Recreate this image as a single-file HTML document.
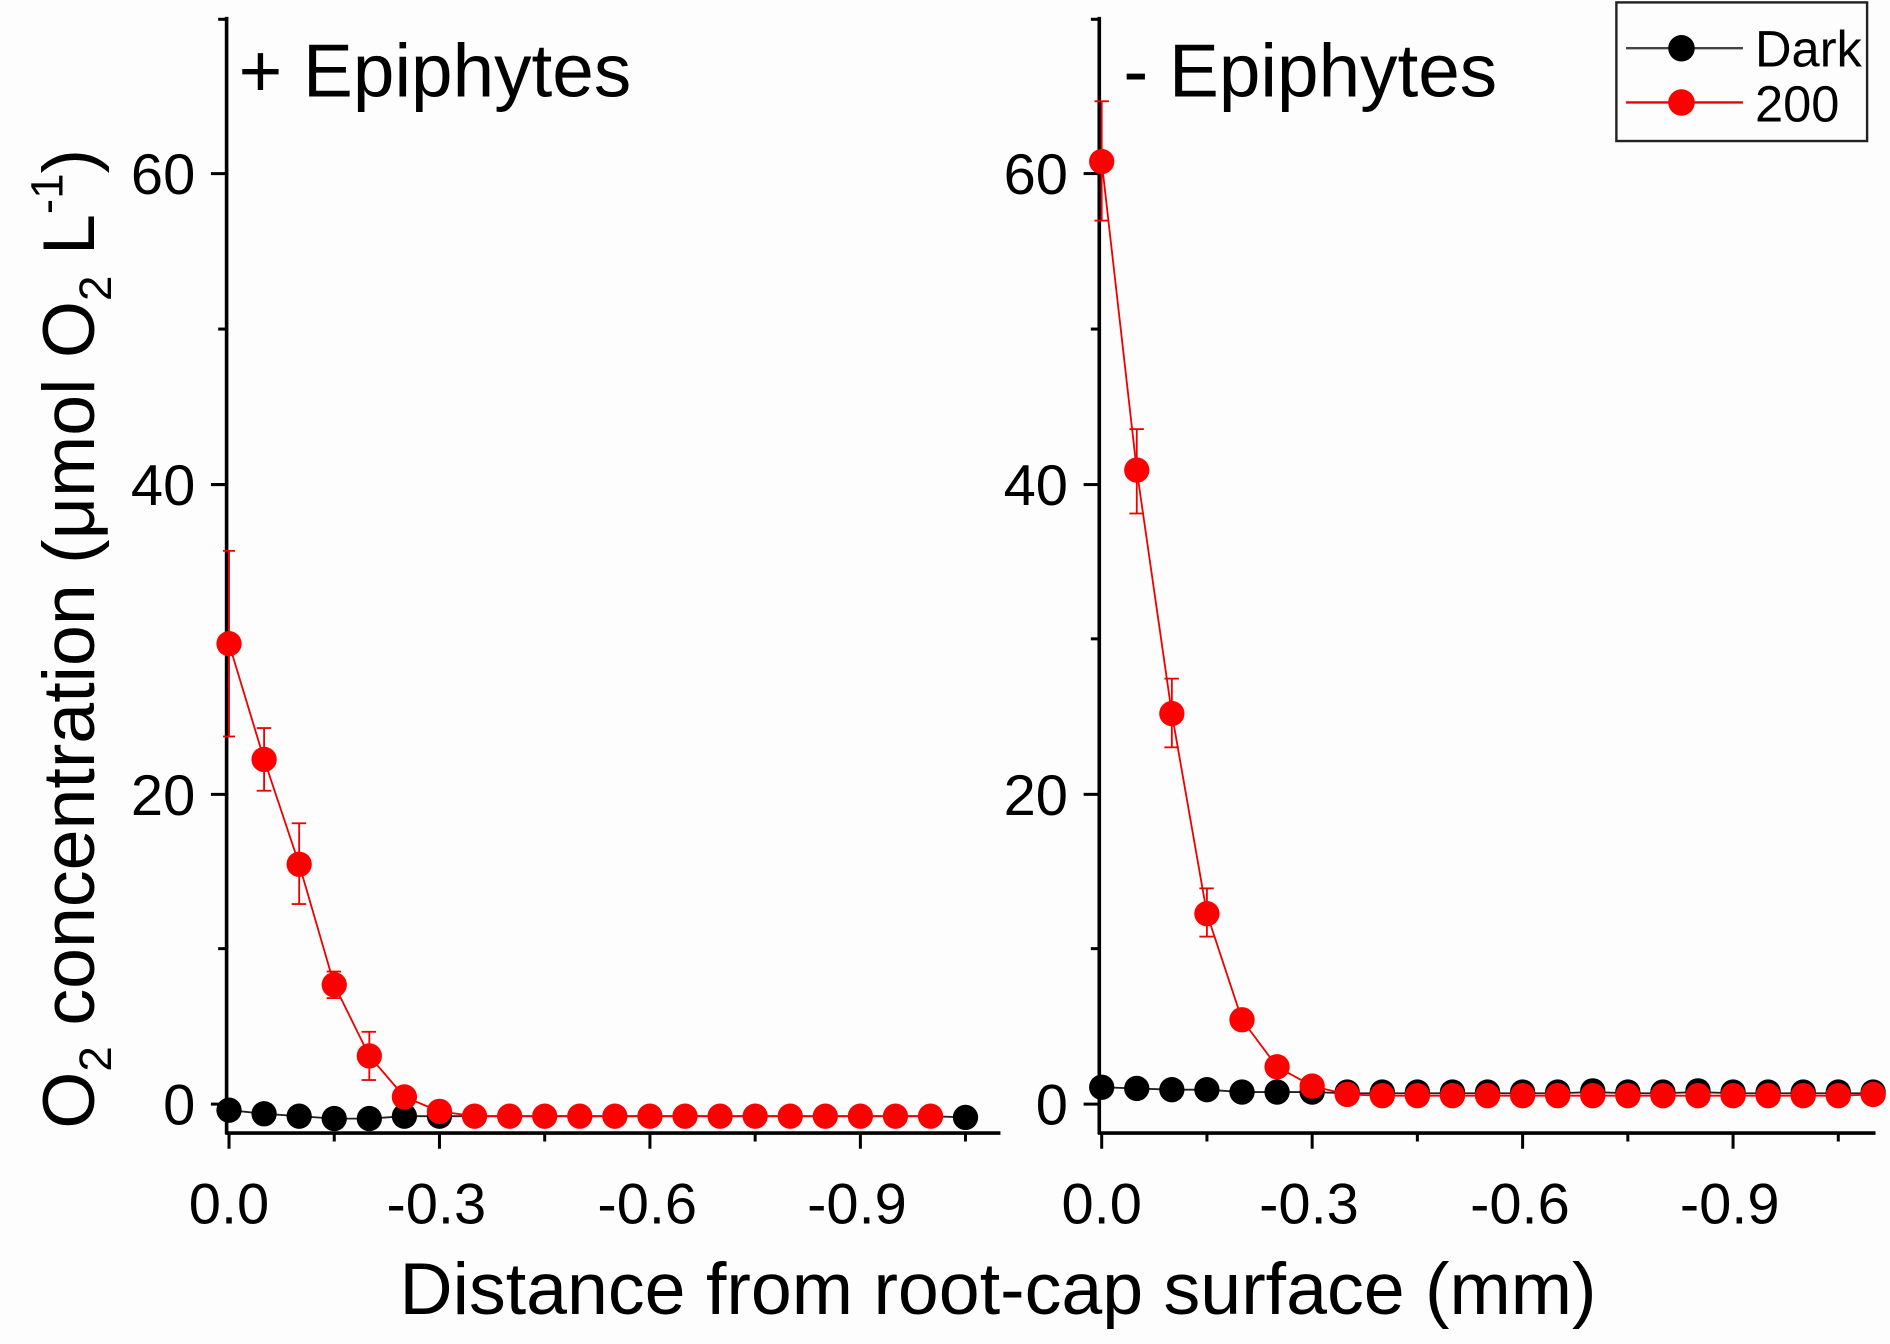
<!DOCTYPE html>
<html><head><meta charset="utf-8"><style>
html,body{margin:0;padding:0;background:#fdfdfd;}
svg{display:block;}
text{font-family:"Liberation Sans",sans-serif;fill:#000;}
</style></head><body>
<svg width="1890" height="1344" viewBox="0 0 1568 1115" preserveAspectRatio="none" xmlns="http://www.w3.org/2000/svg">
<rect width="1568" height="1115" fill="#fdfdfd"/>
<g stroke="#000" stroke-width="3" fill="none">
<line x1="188" y1="14" x2="188" y2="941"/>
<line x1="187" y1="940" x2="830" y2="940"/>
<line x1="912" y1="14" x2="912" y2="941"/>
<line x1="911" y1="940" x2="1556" y2="940"/>
</g>
<g stroke="#000" stroke-width="2.5">
<line x1="175" y1="916" x2="188" y2="916"/><line x1="175" y1="659" x2="188" y2="659"/><line x1="175" y1="402" x2="188" y2="402"/><line x1="175" y1="144" x2="188" y2="144"/>
<line x1="181" y1="787" x2="188" y2="787"/><line x1="181" y1="530" x2="188" y2="530"/><line x1="181" y1="273" x2="188" y2="273"/><line x1="181" y1="16" x2="188" y2="16"/>
<line x1="899" y1="916" x2="912" y2="916"/><line x1="899" y1="659" x2="912" y2="659"/><line x1="899" y1="402" x2="912" y2="402"/><line x1="899" y1="144" x2="912" y2="144"/>
<line x1="905" y1="787" x2="912" y2="787"/><line x1="905" y1="530" x2="912" y2="530"/><line x1="905" y1="273" x2="912" y2="273"/><line x1="905" y1="16" x2="912" y2="16"/>
<line x1="190" y1="940" x2="190" y2="953"/><line x1="364.6" y1="940" x2="364.6" y2="953"/><line x1="539.2" y1="940" x2="539.2" y2="953"/><line x1="713.8" y1="940" x2="713.8" y2="953"/>
<line x1="277.3" y1="940" x2="277.3" y2="947"/><line x1="451.9" y1="940" x2="451.9" y2="947"/><line x1="626.5" y1="940" x2="626.5" y2="947"/><line x1="801" y1="940" x2="801" y2="947"/>
<line x1="914" y1="940" x2="914" y2="953"/><line x1="1088.6" y1="940" x2="1088.6" y2="953"/><line x1="1263.2" y1="940" x2="1263.2" y2="953"/><line x1="1437.8" y1="940" x2="1437.8" y2="953"/>
<line x1="1001.3" y1="940" x2="1001.3" y2="947"/><line x1="1175.9" y1="940" x2="1175.9" y2="947"/><line x1="1350.5" y1="940" x2="1350.5" y2="947"/><line x1="1525.1" y1="940" x2="1525.1" y2="947"/>
</g>
<g font-size="48" text-anchor="end">
<text x="162" y="933">0</text><text x="162" y="676">20</text><text x="162" y="419">40</text><text x="162" y="161">60</text>
<text x="886" y="933">0</text><text x="886" y="676">20</text><text x="886" y="419">40</text><text x="886" y="161">60</text>
</g>
<g font-size="48" text-anchor="middle">
<text x="190" y="1015">0.0</text><text x="362" y="1015">-0.3</text><text x="537" y="1015">-0.6</text><text x="711" y="1015">-0.9</text>
<text x="914" y="1015">0.0</text><text x="1086" y="1015">-0.3</text><text x="1261" y="1015">-0.6</text><text x="1435" y="1015">-0.9</text>
</g>
<text x="828" y="1090" font-size="61" text-anchor="middle">Distance from root-cap surface (mm)</text>
<text transform="translate(78,530) rotate(-90)" font-size="61" text-anchor="middle">O<tspan font-size="38" dy="14">2</tspan><tspan dy="-14"> concentration (μmol O</tspan><tspan font-size="38" dy="14">2</tspan><tspan dy="-14"> L</tspan><tspan font-size="38" dy="-26">-1</tspan><tspan dy="26">)</tspan></text>
<text x="198" y="80" font-size="62">+ Epiphytes</text>
<text x="932" y="80" font-size="62">- Epiphytes</text>

<polyline fill="none" stroke="#222" stroke-width="1.5" points="190,921 219.1,924 248.2,926 277.3,928 306.4,928 335.5,926 364.6,926 393.7,926 422.8,926 451.9,926 481,926 510.1,926 539.2,926 568.3,926 597.4,926 626.5,926 655.6,926 684.7,926 713.8,926 742.9,926 772,926 801,927"/>
<g fill="#000">
<circle cx="190" cy="921" r="10.5"/><circle cx="219.1" cy="924" r="10.5"/><circle cx="248.2" cy="926" r="10.5"/><circle cx="277.3" cy="928" r="10.5"/><circle cx="306.4" cy="928" r="10.5"/><circle cx="335.5" cy="926" r="10.5"/><circle cx="364.6" cy="926" r="10.5"/><circle cx="801" cy="927" r="10.5"/>
</g>
<g stroke="#e00" stroke-width="1.5">
<line x1="190" y1="457" x2="190" y2="611"/><line x1="185" y1="457" x2="195" y2="457"/><line x1="185" y1="611" x2="195" y2="611"/>
<line x1="219.1" y1="604" x2="219.1" y2="656"/><line x1="213" y1="604" x2="225" y2="604"/><line x1="213" y1="656" x2="225" y2="656"/>
<line x1="248.2" y1="683" x2="248.2" y2="750"/><line x1="242" y1="683" x2="254" y2="683"/><line x1="242" y1="750" x2="254" y2="750"/>
<line x1="277.3" y1="806" x2="277.3" y2="828"/><line x1="271" y1="806" x2="283" y2="806"/><line x1="271" y1="828" x2="283" y2="828"/>
<line x1="306.4" y1="856" x2="306.4" y2="896"/><line x1="300" y1="856" x2="312" y2="856"/><line x1="300" y1="896" x2="312" y2="896"/>
</g>
<polyline fill="none" stroke="#e00" stroke-width="1.5" points="190,534 219.1,630 248.2,717 277.3,817 306.4,876 335.5,910 364.6,922 393.7,926 422.8,926 451.9,926 481,926 510.1,926 539.2,926 568.3,926 597.4,926 626.5,926 655.6,926 684.7,926 713.8,926 742.9,926 772,926"/>
<g fill="#f00">
<circle cx="190" cy="534" r="10.5"/><circle cx="219.1" cy="630" r="10.5"/><circle cx="248.2" cy="717" r="10.5"/><circle cx="277.3" cy="817" r="10.5"/><circle cx="306.4" cy="876" r="10.5"/><circle cx="335.5" cy="910" r="10.5"/><circle cx="364.6" cy="922" r="10.5"/><circle cx="393.7" cy="926" r="10.5"/><circle cx="422.8" cy="926" r="10.5"/><circle cx="451.9" cy="926" r="10.5"/><circle cx="481" cy="926" r="10.5"/><circle cx="510.1" cy="926" r="10.5"/><circle cx="539.2" cy="926" r="10.5"/><circle cx="568.3" cy="926" r="10.5"/><circle cx="597.4" cy="926" r="10.5"/><circle cx="626.5" cy="926" r="10.5"/><circle cx="655.6" cy="926" r="10.5"/><circle cx="684.7" cy="926" r="10.5"/><circle cx="713.8" cy="926" r="10.5"/><circle cx="742.9" cy="926" r="10.5"/><circle cx="772" cy="926" r="10.5"/>
</g>

<polyline fill="none" stroke="#222" stroke-width="1.5" points="914,902 943.1,903 972.2,904 1001.3,904 1030.4,906 1059.5,906 1088.6,906 1117.7,907 1146.8,907 1175.9,907 1205,907 1234.1,907 1263.2,907 1292.3,907 1321.4,906 1350.5,907 1379.6,907 1408.7,906 1437.8,907 1466.9,907 1496,907 1525.1,907 1556,907"/>
<g fill="#000">
<circle cx="914" cy="902" r="10.5"/><circle cx="943.1" cy="903" r="10.5"/><circle cx="972.2" cy="904" r="10.5"/><circle cx="1001.3" cy="904" r="10.5"/><circle cx="1030.4" cy="906" r="10.5"/><circle cx="1059.5" cy="906" r="10.5"/><circle cx="1088.6" cy="906" r="10.5"/>
<circle cx="1117.7" cy="906" r="10.5"/><circle cx="1146.8" cy="906" r="10.5"/><circle cx="1175.9" cy="906" r="10.5"/><circle cx="1205" cy="906" r="10.5"/><circle cx="1234.1" cy="906" r="10.5"/><circle cx="1263.2" cy="906" r="10.5"/><circle cx="1292.3" cy="906" r="10.5"/><circle cx="1321.4" cy="905" r="10.5"/><circle cx="1350.5" cy="906" r="10.5"/><circle cx="1379.6" cy="906" r="10.5"/><circle cx="1408.7" cy="905" r="10.5"/><circle cx="1437.8" cy="906" r="10.5"/><circle cx="1466.9" cy="906" r="10.5"/><circle cx="1496" cy="906" r="10.5"/><circle cx="1525.1" cy="906" r="10.5"/><circle cx="1554" cy="906" r="10.5"/>
</g>
<g stroke="#e00" stroke-width="1.5">
<line x1="914" y1="84" x2="914" y2="183"/><line x1="908" y1="84" x2="920" y2="84"/><line x1="908" y1="183" x2="920" y2="183"/>
<line x1="943.1" y1="356" x2="943.1" y2="426"/><line x1="937" y1="356" x2="949" y2="356"/><line x1="937" y1="426" x2="949" y2="426"/>
<line x1="972.2" y1="563" x2="972.2" y2="620"/><line x1="966" y1="563" x2="978" y2="563"/><line x1="966" y1="620" x2="978" y2="620"/>
<line x1="1001.3" y1="737" x2="1001.3" y2="777"/><line x1="995" y1="737" x2="1007" y2="737"/><line x1="995" y1="777" x2="1007" y2="777"/>
<line x1="1030.4" y1="838" x2="1030.4" y2="854"/><line x1="1024" y1="838" x2="1036" y2="838"/><line x1="1024" y1="854" x2="1036" y2="854"/>
</g>
<polyline fill="none" stroke="#e00" stroke-width="1.5" points="914,134 943.1,390 972.2,592 1001.3,758 1030.4,846 1059.5,885 1088.6,901 1117.7,908 1146.8,909 1175.9,909 1205,909 1234.1,909 1263.2,909 1292.3,909 1321.4,909 1350.5,909 1379.6,909 1408.7,909 1437.8,909 1466.9,909 1496,909 1525.1,909 1554,908"/>
<g fill="#f00">
<circle cx="914" cy="134" r="10.5"/><circle cx="943.1" cy="390" r="10.5"/><circle cx="972.2" cy="592" r="10.5"/><circle cx="1001.3" cy="758" r="10.5"/><circle cx="1030.4" cy="846" r="10.5"/><circle cx="1059.5" cy="885" r="10.5"/><circle cx="1088.6" cy="901" r="10.5"/><circle cx="1117.7" cy="908" r="10.5"/><circle cx="1146.8" cy="909" r="10.5"/><circle cx="1175.9" cy="909" r="10.5"/><circle cx="1205" cy="909" r="10.5"/><circle cx="1234.1" cy="909" r="10.5"/><circle cx="1263.2" cy="909" r="10.5"/><circle cx="1292.3" cy="909" r="10.5"/><circle cx="1321.4" cy="909" r="10.5"/><circle cx="1350.5" cy="909" r="10.5"/><circle cx="1379.6" cy="909" r="10.5"/><circle cx="1408.7" cy="909" r="10.5"/><circle cx="1437.8" cy="909" r="10.5"/><circle cx="1466.9" cy="909" r="10.5"/><circle cx="1496" cy="909" r="10.5"/><circle cx="1525.1" cy="909" r="10.5"/><circle cx="1554" cy="908" r="10.5"/>
</g>

<rect x="1341" y="2" width="208" height="115" fill="#fdfdfd" stroke="#222" stroke-width="2"/>
<line x1="1349" y1="40" x2="1446" y2="40" stroke="#444" stroke-width="2"/>
<circle cx="1395" cy="40" r="11" fill="#000"/>
<line x1="1349" y1="85" x2="1446" y2="85" stroke="#e00" stroke-width="2"/>
<circle cx="1395" cy="85" r="11" fill="#f00"/>
<text x="1456" y="55" font-size="42">Dark</text>
<text x="1456" y="101" font-size="42">200</text>
</svg>
</body></html>
